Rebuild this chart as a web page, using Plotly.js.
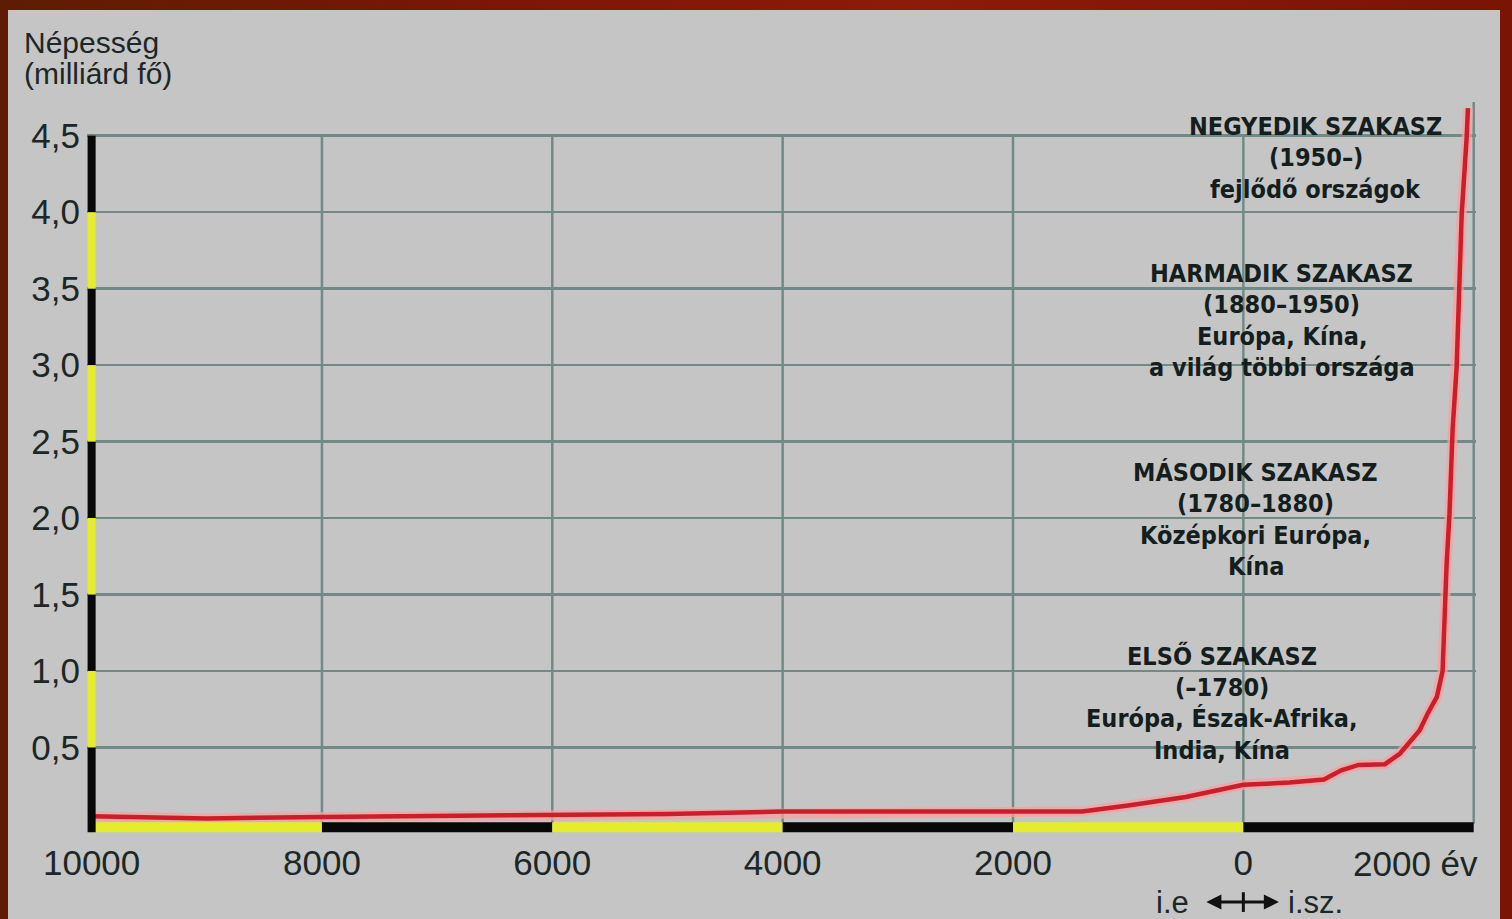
<!DOCTYPE html>
<html>
<head>
<meta charset="utf-8">
<script src="https://cdn.plot.ly/plotly-3.0.1.min.js"></script>
<style>
  html, body { margin: 0; padding: 0; width: 1512px; height: 919px; overflow: hidden; }
  body { background: linear-gradient(90deg, #5e1c04 0%, #7e1606 35%, #8e1a0a 60%, #7a1405 100%); position: relative; }
  #chart { position: absolute; left: 8px; top: 10px; width: 1492px; height: 909px; }
</style>
</head>
<body>
<div id="chart"></div>
<script>
// ---- data ----
const years = [-10000, -9500, -9000, -8000, -7000, -6000, -5000, -4000, -3000, -2000, -1400, -1000, -500, 0, 400, 700, 850, 1000, 1230, 1360, 1460, 1530, 1600, 1680, 1730, 1740, 1748, 1765, 1790, 1817, 1852, 1878, 1896, 1939, 1950];
const population = [0.05, 0.045, 0.035, 0.045, 0.05, 0.06, 0.065, 0.08, 0.08, 0.08, 0.08, 0.12, 0.175, 0.255, 0.27, 0.29, 0.35, 0.385, 0.39, 0.46, 0.55, 0.61, 0.72, 0.83, 1.0, 1.27, 1.48, 1.7, 2.03, 2.58, 2.99, 3.49, 3.99, 4.49, 4.68];

const xTickVals = [-10000, -8000, -6000, -4000, -2000, 0, 2000];
const xTickText = ['10000', '8000', '6000', '4000', '2000', '0', '2000 év'];
const yTickVals = [0.5, 1.0, 1.5, 2.0, 2.5, 3.0, 3.5, 4.0, 4.5];
const yTickText = ['0,5', '1,0', '1,5', '2,0', '2,5', '3,0', '3,5', '4,0', '4,5'];
const yTitleLines = ['Népesség', '(milliárd fő)'];
const eraLabels = ['i.e', 'i.sz.'];

const phaseLines = [
  ['NEGYEDIK SZAKASZ', '(1950–)', 'fejlődő országok'],
  ['HARMADIK SZAKASZ', '(1880–1950)', 'Európa, Kína,', 'a világ többi országa'],
  ['MÁSODIK SZAKASZ', '(1780–1880)', 'Középkori Európa,', 'Kína'],
  ['ELSŐ SZAKASZ', '(–1780)', 'Európa, Észak-Afrika,', 'India, Kína']
];
const phaseX = [628, 333, 107, -188];
const phaseY = [4.56, 3.60, 2.30, 1.10];

// ---- styles ----
const BG = '#c5c5c5';
const GRID = '#728a87';
const TEXT = '#1c2727';
const YELLOW = '#e4ec2c';
const BLACK = '#080808';
const tickFont = { family: 'Liberation Sans, Arial, sans-serif', size: 35, color: TEXT };
const phaseFont = { family: 'Liberation Sans Narrow, DejaVu Sans Condensed, Arial Narrow, sans-serif', size: 25, color: '#141e1e', weight: 'bold' };

const Y_TOP = 4.72, Y_BOT = -0.06;
const X_LEFT = -10040, X_RIGHT = 2020;

const traces = [
  { x: years, y: population, type: 'scatter', mode: 'lines', hoverinfo: 'skip',
    line: { color: 'rgba(245,160,160,0.75)', width: 10 } },
  { x: years, y: population, type: 'scatter', mode: 'lines',
    line: { color: '#cc1e2a', width: 4.5 } }
];

const shapes = [];
// vertical grid lines
for (let i = 1; i < xTickVals.length; i++) {
  const last = i === xTickVals.length - 1;
  shapes.push({ type: 'line', layer: 'between', xref: 'x', yref: 'y',
    x0: xTickVals[i], x1: xTickVals[i], y0: 0, y1: last ? Y_TOP : yTickVals[yTickVals.length - 1],
    line: { color: GRID, width: 2.5 } });
}
// bottom axis bar (alternating yellow / black)
for (let i = 0; i < xTickVals.length - 1; i++) {
  shapes.push({ type: 'rect', layer: 'above', xref: 'x', yref: 'y',
    x0: xTickVals[i], x1: xTickVals[i + 1], y0: -0.055, y1: 0.01,
    fillcolor: i % 2 === 0 ? YELLOW : BLACK, line: { width: 0 } });
}
// left axis bar (alternating black / yellow)
const yStops = [0].concat(yTickVals);
for (let i = 0; i < yStops.length - 1; i++) {
  shapes.push({ type: 'rect', layer: 'above', xref: 'x', yref: 'y',
    x0: -10035, x1: -9965, y0: yStops[i] - (i === 0 ? 0.055 : 0), y1: yStops[i + 1],
    fillcolor: i % 2 === 0 ? BLACK : YELLOW, line: { width: 0 } });
}
// vertical tick of the era arrow
shapes.push({ type: 'line', xref: 'x', yref: 'paper', x0: 0, x1: 0, y0: -0.081, y1: -0.108,
  line: { color: '#111', width: 3 } });

const annotations = [];
yTitleLines.forEach((t, i) => annotations.push({
  text: t, xref: 'paper', yref: 'paper', x: -0.0468, y: 1.082 - i * 0.0424,
  xanchor: 'left', yanchor: 'middle', showarrow: false,
  font: { family: 'Liberation Sans, Arial, sans-serif', size: 30, color: TEXT }
}));
phaseLines.forEach((lines, k) => lines.forEach((t, i) => annotations.push({
  text: t, xref: 'x', yref: 'y', x: phaseX[k], y: phaseY[k], yshift: -31.5 * i,
  xanchor: 'center', yanchor: 'middle', showarrow: false, font: phaseFont
})));
// last x tick label, right-aligned at the plot edge
annotations.push({ text: xTickText[xTickText.length - 1], xref: 'x', yref: 'paper',
  x: xTickVals[xTickVals.length - 1], y: -0.0424, xanchor: 'right', yanchor: 'middle',
  xshift: 6, showarrow: false, font: tickFont });
// era labels + double arrow
annotations.push({ text: eraLabels[0], xref: 'x', yref: 'paper', x: 0, y: -0.0944,
  xanchor: 'right', yanchor: 'middle', xshift: -52, showarrow: false,
  font: { family: 'Liberation Sans, Arial, sans-serif', size: 31, color: TEXT } });
annotations.push({ text: eraLabels[1], xref: 'x', yref: 'paper', x: 0, y: -0.0944,
  xanchor: 'left', yanchor: 'middle', xshift: 43, showarrow: false,
  font: { family: 'Liberation Sans, Arial, sans-serif', size: 31, color: TEXT } });
annotations.push({ text: '', xref: 'x', yref: 'paper', x: 0, y: -0.0944, xshift: -37,
  ax: 74, ay: 0, showarrow: true, arrowside: 'end+start', arrowhead: 2, arrowsize: 1,
  arrowwidth: 3, arrowcolor: '#111', standoff: 0, startstandoff: 0 });

const layout = {
  width: 1492, height: 909,
  margin: { l: 79, r: 24, t: 92, b: 86 },
  paper_bgcolor: BG, plot_bgcolor: BG,
  showlegend: false,
  xaxis: { range: [X_LEFT, X_RIGHT], tickvals: xTickVals.slice(0, -1), ticktext: xTickText.slice(0, -1),
    showgrid: false, zeroline: false, showline: false, ticks: '', tickfont: tickFont,
    ticklabelstandoff: 6, fixedrange: true },
  yaxis: { range: [Y_BOT, Y_TOP], tickvals: yTickVals, ticktext: yTickText,
    showgrid: true, gridcolor: GRID, gridwidth: 2.5, zeroline: false, showline: false,
    ticks: '', tickfont: tickFont, ticklabelstandoff: 6, fixedrange: true },
  shapes: shapes,
  annotations: annotations
};

Plotly.newPlot('chart', traces, layout, { displayModeBar: false, staticPlot: true });
</script>
</body>
</html>
